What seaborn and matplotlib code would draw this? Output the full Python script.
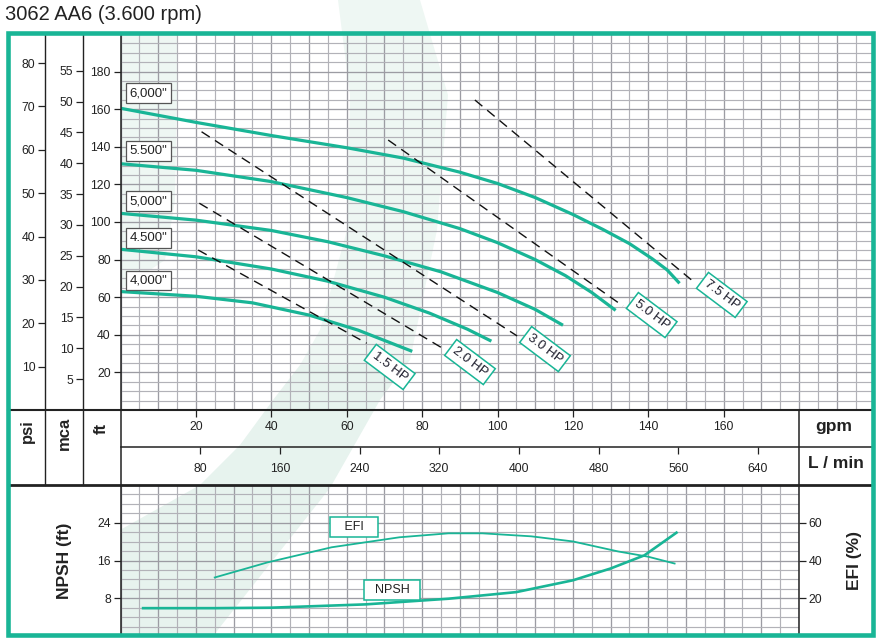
import matplotlib
matplotlib.use('Agg')
import matplotlib.pyplot as plt
import seaborn as sns
import numpy as np
from matplotlib.lines import Line2D
from matplotlib.patches import Polygon, Rectangle
from matplotlib import transforms

# curvas de altura (gpm, ft)
gpm_6000 = [0, 20, 40, 60, 75, 90, 100, 110, 120, 128, 135, 141, 145, 148]
ft_6000 = [160.5, 153, 146, 139.5, 134, 126.5, 120.5, 113, 104, 96, 88.5, 80.5, 74.5, 68]
gpm_5500 = [0, 20, 40, 60, 75, 90, 100, 110, 118, 125, 131]
ft_5500 = [131, 127.5, 121.5, 113, 105.5, 96.5, 89, 80, 71.5, 62.5, 53.5]
gpm_5000 = [0, 20, 40, 55, 70, 85, 100, 110, 117]
ft_5000 = [104.6, 101, 95.5, 89.5, 82, 73.5, 62.5, 53.5, 45.5]
gpm_4500 = [0, 20, 40, 55, 70, 82, 92, 98]
ft_4500 = [85.5, 81.5, 75, 68.5, 60, 51.5, 43, 37]
gpm_4000 = [0, 20, 35, 50, 63, 77]
ft_4000 = [63, 60.5, 57, 50.5, 42.5, 31.5]

impellers = ['6,000"', '5.500"', '5,000"', '4.500"', '4,000"']
impeller_label_ft = [168.4, 138, 111, 91.5, 68.9]

# lineas de potencia (inicio / fin)
hp_names = ['1.5 HP', '2.0 HP', '3.0 HP', '5.0 HP', '7.5 HP']
hp_gpm_start = [20.6, 20.9, 21.5, 71, 94]
hp_ft_start = [85.1, 110, 148, 143.6, 164.9]
hp_gpm_end = [65.3, 85.3, 105.2, 133.3, 151.5]
hp_ft_end = [35.5, 33, 39.4, 55.3, 69.1]
hp_label_gpm = [71.4, 92.7, 112.6, 140.9, 159.5]
hp_label_ft = [22.9, 25.5, 32.4, 50.5, 61.2]

# NPSH y eficiencia
npsh_gpm = [6, 25, 40, 65, 87, 105, 120, 130, 139, 147.5]
npsh_ft = [5.9, 5.9, 6.0, 6.7, 7.9, 9.3, 11.8, 14.3, 17.1, 21.9]
efi_gpm = [25, 39, 56, 74, 87, 96, 109, 120, 132, 140, 147]
efi_pct = [31, 39, 47, 52.3, 54.4, 54.4, 52.8, 50.1, 44.8, 42, 38.4]

ft_ticks = [20, 40, 60, 80, 100, 120, 140, 160, 180]
psi_ticks = [10, 20, 30, 40, 50, 60, 70, 80]
mca_ticks = [5, 10, 15, 20, 25, 30, 35, 40, 45, 50, 55]
gpm_ticks = [20, 40, 60, 80, 100, 120, 140, 160]
lmin_ticks = [80, 160, 240, 320, 400, 480, 560, 640]
npsh_ticks = [8, 16, 24]
efi_ticks = [20, 40, 60]

TEAL = '#19b596'
DARK = '#222222'
GRID_MIN = '#b2b2b8'
GRID_MAJ = '#9c9ca3'

plt.rcParams['font.family'] = 'Liberation Sans'

W, H = 885, 643
fig = plt.figure(figsize=(W / 100, H / 100), dpi=100)


def fx(px):
    return px / W


def fy(py):
    return 1 - py / H


def box(l, t, r, b):
    return [fx(l), fy(b), (r - l) / W, (b - t) / H]


def fig_line(x0, y0, x1, y1, lw=1.0, color=DARK):
    fig.add_artist(Line2D([fx(x0), fx(x1)], [fy(y0), fy(y1)], transform=fig.transFigure,
                          lw=lw, color=color, zorder=5))


def fig_poly(pts, color):
    fig.add_artist(Polygon([(fx(x), fy(y)) for x, y in pts], closed=True,
                           transform=fig.transFigure, facecolor=color, edgecolor='none',
                           zorder=-1))


# franja decorativa de fondo
fig_poly([(338, 0), (350, 95), (347, 230), (320, 330), (300, 365), (340, 365), (410, 360),
          (437, 230), (448, 95), (420, 0)], '#eef7f3')
fig_poly([(300, 365), (273, 400), (240, 445), (200, 485), (120, 530), (120, 636), (213, 636),
          (330, 488), (380, 400), (410, 360), (340, 365)], '#e7f3ee')
fig_poly([(120, 34), (178, 34), (175, 200), (165, 260), (120, 290)], '#eef7f3')


def setup_grid(a, xstep, ystep, xmax, ymax):
    a.set_xticks(np.arange(0, xmax + 0.1, xstep), minor=True)
    a.set_yticks(np.arange(0, ymax + 0.1, ystep), minor=True)
    a.grid(which='minor', color=GRID_MIN, lw=0.85)
    a.grid(which='major', color=GRID_MAJ, lw=0.95)
    a.tick_params(which='minor', length=0)
    a.set_axisbelow(True)


# ---- grafico principal ----
ax = fig.add_axes(box(120.5, 34, 874.5, 410))
ax.set_facecolor('none')
curves = [(gpm_6000, ft_6000), (gpm_5500, ft_5500), (gpm_5000, ft_5000),
          (gpm_4500, ft_4500), (gpm_4000, ft_4000)]
for xs, ys in curves:
    sns.lineplot(x=xs, y=ys, ax=ax, color=TEAL, lw=2.3, estimator=None, sort=False, zorder=3)
for i in range(len(hp_names)):
    sns.lineplot(x=[hp_gpm_start[i], hp_gpm_end[i]], y=[hp_ft_start[i], hp_ft_end[i]], ax=ax,
                 color='#111111', lw=1.0, linestyle=(0, (7, 4.5)), estimator=None, zorder=3)
    ax.text(hp_label_gpm[i], hp_label_ft[i], hp_names[i], rotation=-37, rotation_mode='anchor',
            ha='center', va='center', fontsize=9.5, color='#1b1b2a', zorder=4,
            bbox=dict(boxstyle='square,pad=0.3', fc='white', ec=TEAL, lw=1.1))
for name, yv in zip(impellers, impeller_label_ft):
    ax.text(7.4, yv, name, ha='center', va='center', fontsize=9.5, color=DARK, zorder=4,
            bbox=dict(boxstyle='square,pad=0.3', fc='white', ec='#555555', lw=0.9))
ax.set_xlim(0, 200)
ax.set_ylim(0, 200)
ax.set_xticks(np.arange(0, 201, 10))
ax.set_yticks(ft_ticks)
setup_grid(ax, 5, 5, 200, 200)
ax.tick_params(axis='x', length=0, labelbottom=False)
ax.tick_params(axis='y', direction='out', length=5, width=0.9, pad=2, labelsize=8.8,
               colors=DARK)
ax.set_xlabel('')
ax.set_ylabel('')
for s in ax.spines.values():
    s.set_visible(False)

# escalas psi y mca
for left, top_val, ticks in [(45, 200 / 2.307, psi_ticks), (83, 200 / 3.281, mca_ticks)]:
    a = fig.add_axes(box(left, 34, left + 1, 410))
    a.set_facecolor('none')
    a.set_ylim(0, top_val)
    a.set_yticks(ticks)
    a.xaxis.set_visible(False)
    a.tick_params(axis='y', direction='out', length=5, width=0.9, pad=2, labelsize=8.8,
                  colors=DARK)
    for s in a.spines.values():
        s.set_visible(False)

# filas de caudal
rows = [(410, 447, 200, gpm_ticks, 0.55), (447, 485, 200 * 3.785, lmin_ticks, 0.43)]
for top, bot, xmax, ticks, ty in rows:
    a = fig.add_axes(box(120.5, top, 874.5, bot))
    a.set_facecolor('none')
    a.set_xlim(0, xmax)
    a.set_xticks(ticks)
    a.yaxis.set_visible(False)
    a.tick_params(axis='x', top=True, bottom=False, direction='in', length=5, width=0.9,
                  labelbottom=False, labeltop=False, colors=DARK)
    for s in a.spines.values():
        s.set_visible(False)
    tr = transforms.blended_transform_factory(a.transData, a.transAxes)
    for v in ticks:
        a.text(v, ty, str(v), transform=tr, ha='center', va='center', fontsize=8.8, color=DARK)

fig.text(fx(834), fy(427), 'gpm', ha='center', va='center', fontsize=12.5,
         fontweight='bold', color=DARK)
fig.text(fx(836), fy(464), 'L / min', ha='center', va='center', fontsize=12.5,
         fontweight='bold', color=DARK)
for xc, yc, lab in [(27, 431, 'psi'), (64, 433, 'mca'), (101, 428, 'ft')]:
    fig.text(fx(xc), fy(yc), lab, rotation=90, ha='center', va='center', fontsize=12,
             fontweight='bold', color=DARK)

# ---- panel NPSH / EFI ----
axb = fig.add_axes(box(120.5, 485, 799, 636))
axb.set_facecolor('none')
sns.lineplot(x=npsh_gpm, y=npsh_ft, ax=axb, color=TEAL, lw=1.9, estimator=None, zorder=3)
axb.set_xlim(0, 180)
axb.set_ylim(0, 32)
axb.set_xticks(np.arange(0, 181, 10))
axb.set_yticks(npsh_ticks)
setup_grid(axb, 5, 2, 180, 32)
axb.tick_params(axis='x', length=0, labelbottom=False)
axb.tick_params(axis='y', direction='out', length=5, width=0.9, pad=2, labelsize=8.8,
                colors=DARK)
axb.set_xlabel('')
axb.set_ylabel('')
for s in axb.spines.values():
    s.set_visible(False)
axb.text(62, 23.05, '   EFI   ', ha='center', va='center', fontsize=9, color=DARK, zorder=4,
         bbox=dict(boxstyle='square,pad=0.3', fc='white', ec=TEAL, lw=1.1))
axb.text(72, 9.8, '  NPSH  ', ha='center', va='center', fontsize=9, color=DARK, zorder=4,
         bbox=dict(boxstyle='square,pad=0.3', fc='white', ec=TEAL, lw=1.1))

axe = axb.twinx()
axe.set_facecolor('none')
sns.lineplot(x=efi_gpm, y=efi_pct, ax=axe, color=TEAL, lw=1.3, estimator=None, zorder=3)
axe.set_xlim(0, 180)
axe.set_ylim(0, 80)
axe.set_yticks(efi_ticks)
axe.tick_params(axis='y', direction='out', length=5, width=0.9, pad=2, labelsize=8.8,
                colors=DARK)
axe.set_ylabel('')
for s in axe.spines.values():
    s.set_visible(False)

fig.text(fx(64), fy(561), 'NPSH (ft)', rotation=90, ha='center', va='center', fontsize=12.5,
         fontweight='bold', color=DARK)
fig.text(fx(855), fy(561), 'EFI (%)', rotation=90, ha='center', va='center', fontsize=12.5,
         fontweight='bold', color=DARK)

# estructura de la tabla
fig_line(45, 33, 45, 485)
fig_line(83, 33, 83, 485)
fig_line(120.5, 33, 120.5, 636, lw=1.1)
fig_line(799, 410, 799, 636, lw=1.1)
fig_line(8, 410, 873, 410, lw=1.5)
fig_line(120.5, 447, 873, 447, lw=1.1)
fig_line(8, 485, 873, 485, lw=2.0)

fig.add_artist(Rectangle((fx(7.5), fy(635)), fx(873) - fx(7.5), fy(33) - fy(635),
                         transform=fig.transFigure, fill=False, ec=TEAL, lw=3.3, zorder=10))

fig.text(fx(5), fy(15), '3062 AA6 (3.600 rpm)', ha='left', va='center', fontsize=14.5,
         color=DARK)

fig.savefig('out.png', dpi=100)
